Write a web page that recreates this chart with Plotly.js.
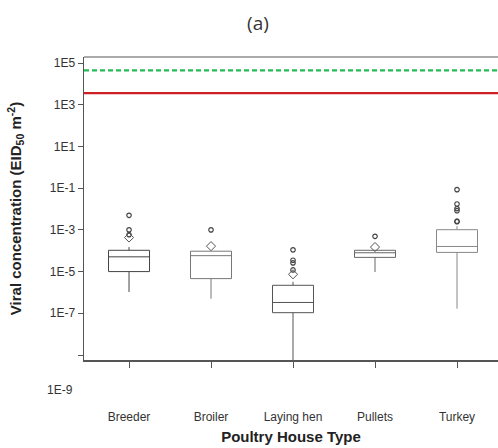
<!DOCTYPE html>
<html>
<head>
<meta charset="utf-8">
<script src="https://cdn.plot.ly/plotly-3.0.1.min.js"></script>
<style>html,body{margin:0;padding:0;background:#fff;}#chart{width:498px;height:448px;}</style>
</head>
<body>
<div id="chart"></div>
<script>
// Categories
var categories = ["Breeder", "Broiler", "Laying hen", "Pullets", "Turkey"];
// Box statistics (EID50 m^-2)
var q1Values     = [1.0e-5, 4.6e-6, 1.07e-7, 4.8e-5, 8.3e-5];
var medianValues = [5.1e-5, 5.8e-5, 3.3e-7, 8.0e-5, 1.6e-4];
var q3Values     = [1.05e-4, 9.5e-5, 2.2e-6, 1.05e-4, 1.02e-3];
var lowerFence   = [1.05e-6, 5.0e-7, 1.2e-10, 9.5e-6, 1.66e-7];
var upperFence   = [1.5e-4, 9.5e-5, 3.2e-6, 1.05e-4, 1.5e-3];
var boxColors    = ["#444444", "#777777", "#555555", "#666666", "#888888"];
// Means (diamonds)
var meanCats   = ["Breeder", "Broiler", "Laying hen", "Pullets"];
var meanValues = [4.3e-4, 1.66e-4, 7.4e-6, 1.5e-4];
// Outliers
var outlierCats = ["Breeder","Breeder","Breeder","Broiler",
                   "Laying hen","Laying hen","Laying hen","Laying hen",
                   "Pullets",
                   "Turkey","Turkey","Turkey","Turkey","Turkey","Turkey"];
var outlierValues = [5.0e-3, 1.0e-3, 5.9e-4, 1.0e-3,
                     1.1e-4, 3.5e-5, 2.6e-5, 1.2e-5,
                     4.9e-4,
                     8.5e-2, 1.74e-2, 1.05e-2, 8.3e-3, 2.45e-3, 2.6e-3];
// Threshold lines
var thresholdValues = [4.5e4, 3.6e3];
var thresholdColors = ["#22bb55", "#cc1f26"];
var thresholdDash   = ["5px,3px", "solid"];
// Y tick labels
var yTickVals = [1e5, 1e3, 1e1, 1e-1, 1e-3, 1e-5, 1e-7, 1e-9];
var yTickText = ["1E5", "1E3", "1E1", "1E-1", "1E-3", "1E-5", "1E-7", ""];

var traces = categories.map(function (c, i) {
  return {
    type: "box",
    x: [c],
    q1: [q1Values[i]],
    median: [medianValues[i]],
    q3: [q3Values[i]],
    lowerfence: [lowerFence[i]],
    upperfence: [upperFence[i]],
    width: 0.5,
    whiskerwidth: 0,
    fillcolor: "rgba(255,255,255,0)",
    line: {color: boxColors[i], width: 1},
    hoverinfo: "skip",
    showlegend: false
  };
});
traces.push({
  type: "scatter",
  mode: "markers",
  x: outlierCats,
  y: outlierValues,
  marker: {symbol: "circle-open", size: 4.5, color: "#444444", line: {width: 1.2}},
  showlegend: false
});
traces.push({
  type: "scatter",
  mode: "markers",
  x: meanCats,
  y: meanValues,
  marker: {symbol: "diamond-open", size: 7, color: "#555555", line: {width: 1}},
  showlegend: false
});

var shapes = thresholdValues.map(function (v, i) {
  return {type: "line", xref: "paper", x0: 0, x1: 1, yref: "y", y0: v, y1: v,
          line: {color: thresholdColors[i], width: 2.2, dash: thresholdDash[i]}};
});
shapes.push({type: "line", xref: "paper", yref: "paper", x0: 0, x1: 1, y0: 1, y1: 1,
             line: {color: "#aaaaaa", width: 2}});

var layout = {
  width: 498, height: 448,
  margin: {l: 84, r: 0, t: 57, b: 88},
  paper_bgcolor: "#ffffff",
  plot_bgcolor: "#ffffff",
  font: {family: "Liberation Sans, Arial, sans-serif", color: "#333333", size: 12},
  title: {text: "(a)", x: 0.518, xanchor: "center", y: 0.948, yanchor: "middle",
          font: {family: "Open Sans, Noto Sans, sans-serif", size: 19, color: "#333333"}},
  boxmode: "overlay",
  xaxis: {
    type: "category",
    categoryorder: "array", categoryarray: categories,
    range: [-0.549, 4.5],
    showgrid: false, zeroline: false,
    showline: true, linecolor: "#555555", linewidth: 1.5,
    ticks: "outside", ticklen: 6, tickcolor: "#555555",
    ticklabelstandoff: 39,
    tickfont: {size: 12, color: "#333333"},
    title: {text: "Poultry House Type", standoff: 8,
            font: {size: 15, color: "#222222", family: "Liberation Sans, Arial, sans-serif", weight: "bold"}}
  },
  yaxis: {
    type: "log",
    range: [-9.24, 5.29],
    tickvals: yTickVals, ticktext: yTickText,
    showgrid: false, zeroline: false,
    showline: true, linecolor: "#555555", linewidth: 1.5,
    ticks: "outside", ticklen: 5, tickcolor: "#555555",
    tickfont: {size: 12, color: "#333333"},
    title: {text: "Viral concentration (EID<sub>50</sub> m<sup>-2</sup>)", standoff: 24,
            font: {size: 15, color: "#222222", family: "Liberation Sans, Arial, sans-serif", weight: "bold"}}
  },
  shapes: shapes,
  annotations: [
    {text: "1E-9", xref: "paper", yref: "paper", x: 0, xshift: -9, xanchor: "right",
     y: -0.099, yanchor: "middle", showarrow: false, font: {size: 12, color: "#333333"}}
  ],
  showlegend: false
};

Plotly.newPlot("chart", traces, layout, {displayModeBar: false, staticPlot: true});
</script>
</body>
</html>
